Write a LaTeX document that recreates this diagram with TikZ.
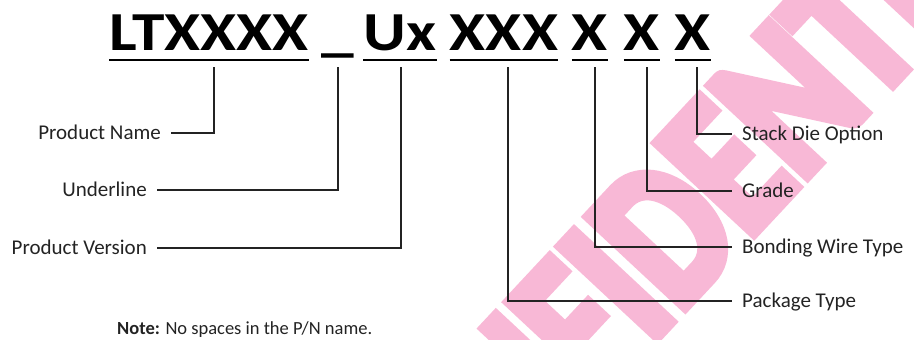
\documentclass[tikz,border=0pt]{standalone}
\usepackage{fontspec}
\setmainfont{Carlito}
\newfontfamily\pnfont[FakeStretch=1.19]{Carlito}
\newfontfamily\stampfont[FakeStretch=0.78,FakeBold=5]{Carlito}
\usetikzlibrary{positioning,calc}
\definecolor{stamppink}{RGB}{248,184,214}
\definecolor{leadgray}{RGB}{35,35,35}

\begin{document}
\begin{tikzpicture}[
    x=1pt, y=-1pt,
    part/.style={anchor=base, inner xsep=0pt, inner ysep=17pt, text depth=0pt, font=\pnfont\fontsize{55}{60}\selectfont\bfseries},
    fieldL/.style={anchor=east, inner xsep=10pt, inner ysep=0pt, text height=13.5pt, text depth=0pt, text=leadgray, font=\fontsize{21}{24}\selectfont},
    fieldR/.style={fieldL, anchor=west},
    note/.style={anchor=base west, inner sep=0pt, text=leadgray, font=\fontsize{18.5}{21}\selectfont},
    stamp/.style={text=stamppink, font=\stampfont\fontsize{205}{210}\selectfont\bfseries, rotate=47},
    uline/.style={line width=2.5pt, black},
    lead/.style={line width=1.5pt, leadgray}
]
\useasboundingbox (0,0) rectangle (914,340);

% ============== WATERMARK ==============
\begin{scope}
\clip (0,0) rectangle (914,340);
\node[stamp] (stamp) at (684,211) {CONFIDENTIAL};
\end{scope}

% ============== PART NUMBER ==============
\node[part] (pname) at (209,50) {LTXXXX};
\node[part] (uscore) at (338,50) {\_};
\node[part] (pver) at (400,50) {Ux};
\node[part] (pkg) at (504,50) {XXX};
\node[part] (wire) at (590,50) {X};
\node[part] (grade) at (642,50) {X};
\node[part] (stack) at (693,50) {X};

\foreach \p in {pname,pver,pkg,wire,grade,stack}
  \draw[uline] ([yshift=-10pt]\p.base west) -- ([yshift=-10pt]\p.base east);

% ============== LABELS ==============
\node[fieldL] (nameLbl) at (171,133) {Product Name};
\node[fieldL] (uscoreLbl) at (157,190) {Underline};
\node[fieldL] (verLbl) at (157,248) {Product Version};

\node[fieldR] (stackLbl) at (732,134) {Stack Die Option};
\node[fieldR] (gradeLbl) at (732,191) {Grade};
\node[fieldR] (wireLbl) at (732,247) {Bonding Wire Type};
\node[fieldR] (pkgLbl) at (732,301) {Package Type};

\node[note] (pnNote) at (117,334) {\textbf{Note:} No spaces in the P/N name.};

% ============== LEADERS ==============
\draw[lead] ([xshift=5pt]pname.south) |- (nameLbl.east);
\draw[lead] (uscore.south) |- (uscoreLbl.east);
\draw[lead] ([xshift=1pt]pver.south) |- (verLbl.east);
\draw[lead] ([xshift=4pt]pkg.south) |- (pkgLbl.west);
\draw[lead] ([xshift=5pt]wire.south) |- (wireLbl.west);
\draw[lead] ([xshift=5pt]grade.south) |- (gradeLbl.west);
\draw[lead] ([xshift=4pt]stack.south) |- (stackLbl.west);

\end{tikzpicture}
\end{document}
